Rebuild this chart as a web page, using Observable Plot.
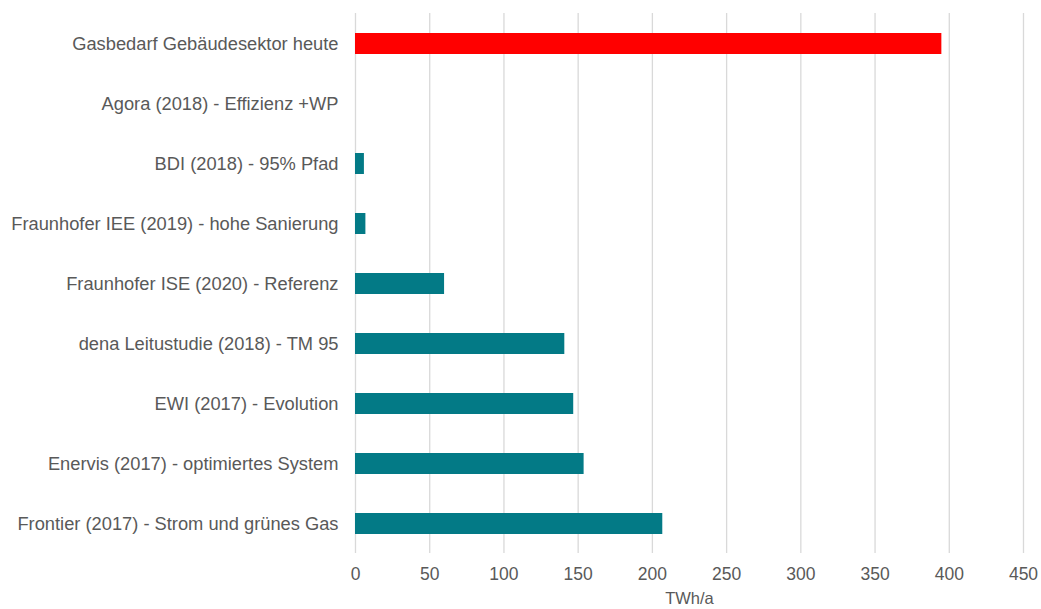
<!DOCTYPE html>
<html>
<head>
<meta charset="utf-8">
<script src="https://cdn.jsdelivr.net/npm/d3@7"></script>
<script src="https://cdn.jsdelivr.net/npm/@observablehq/plot@0.6"></script>
<style>
  html, body { margin: 0; padding: 0; background: #fff; }
  #chart { width: 1041px; height: 609px; }
</style>
</head>
<body>
<div id="chart"></div>
<script>
const categories = [
  "Gasbedarf Gebäudesektor heute",
  "Agora (2018) - Effizienz +WP",
  "BDI (2018) - 95% Pfad",
  "Fraunhofer IEE (2019) - hohe Sanierung",
  "Fraunhofer ISE (2020) - Referenz",
  "dena Leitustudie (2018) - TM 95",
  "EWI (2017) - Evolution",
  "Enervis (2017) - optimiertes System",
  "Frontier (2017) - Strom und grünes Gas"
];
const values = [395, 0, 6, 7, 60, 141, 147, 154, 207];
const xTicks = [0, 50, 100, 150, 200, 250, 300, 350, 400, 450];
const xLabel = "TWh/a";

const data = categories.map((c, i) => ({name: c, value: values[i], today: i === 0}));

const chart = Plot.plot({
  width: 1041,
  height: 609,
  marginLeft: 355,
  marginRight: 18,
  marginTop: 13,
  marginBottom: 56,
  style: {fontFamily: "'Liberation Sans', Arial, sans-serif", fontSize: "18px", color: "#595959", background: "#fff"},
  x: {domain: [0, 450], ticks: xTicks, grid: false, label: null},
  y: {domain: categories, paddingInner: 0.65, paddingOuter: 0.325, label: null},
  marks: [
    Plot.ruleX(xTicks, {stroke: "#d9d9d9", strokeWidth: 1.3}),
    Plot.barX(data, {y: "name", x: "value", fill: d => d.today ? "#ff0000" : "#037a86"}),
    Plot.axisX({ticks: xTicks, tickSize: 0, tickPadding: 14, fontSize: 17.5, label: null}),
    Plot.axisY({tickSize: 0, tickPadding: 17, fontSize: 18.3, label: null}),
    Plot.text([xLabel], {frameAnchor: "bottom", dy: 50, fontSize: 16.5, fill: "#595959"})
  ]
});
document.getElementById("chart").appendChild(chart);
</script>
</body>
</html>
